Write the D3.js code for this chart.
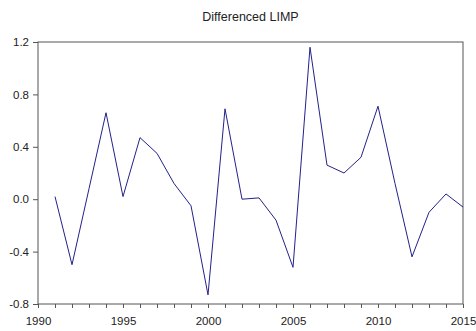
<!DOCTYPE html>
<html lang="en">
<head>
    <meta charset="UTF-8">
    <title>Differenced LIMP</title>
    <script src="https://cdnjs.cloudflare.com/ajax/libs/d3/7.8.5/d3.min.js"></script>
    <style>
        body {
            margin: 0;
            padding: 0;
            background-color: white;
        }
        .axis text {
            font-family: Arial, "Liberation Sans", sans-serif;
            font-size: 11.5px;
            fill: #222;
        }
        .axis path, .axis line {
            stroke: #555;
        }
    </style>
</head>
<body>
    <div id="chart"></div>

    <script>
        // Data
        const years = [1991, 1992, 1993, 1994, 1995, 1996, 1997, 1998, 1999, 2000,
                       2001, 2002, 2003, 2004, 2005, 2006, 2007, 2008, 2009, 2010,
                       2011, 2012, 2013, 2014, 2015];
        const values = [0.02, -0.50, 0.08, 0.66, 0.02, 0.47, 0.35, 0.12, -0.05, -0.73,
                        0.69, 0.00, 0.01, -0.16, -0.52, 1.16, 0.26, 0.20, 0.32, 0.71,
                        0.12, -0.44, -0.10, 0.04, -0.06];
        const yTicks = [-0.8, -0.4, 0.0, 0.4, 0.8, 1.2];
        const xTicks = [1990, 1995, 2000, 2005, 2010, 2015];
        const title = "Differenced LIMP";

        const width = 476;
        const height = 331;
        const margin = {top: 42, right: 13, bottom: 27, left: 38};

        const svg = d3.select("#chart")
            .append("svg")
            .attr("width", width)
            .attr("height", height);

        const x = d3.scaleLinear()
            .domain([1990, 2015])
            .range([margin.left, width - margin.right]);

        const y = d3.scaleLinear()
            .domain([-0.8, 1.2])
            .range([height - margin.bottom, margin.top]);

        // frame
        svg.append("rect")
            .attr("x", margin.left)
            .attr("y", margin.top)
            .attr("width", x.range()[1] - x.range()[0])
            .attr("height", y.range()[0] - y.range()[1])
            .attr("fill", "none")
            .attr("stroke", "#555");

        // x axis: minor ticks every year, labels every 5
        svg.append("g")
            .attr("class", "axis")
            .attr("transform", `translate(0,${height - margin.bottom})`)
            .call(d3.axisBottom(x).tickValues(d3.range(1990, 2016)).tickSize(4).tickFormat(""))
            .call(g => g.select(".domain").remove());

        svg.append("g")
            .attr("class", "axis")
            .attr("transform", `translate(0,${height - margin.bottom})`)
            .call(d3.axisBottom(x).tickValues(xTicks).tickSize(4).tickPadding(9).tickFormat(d3.format("d")))
            .call(g => g.select(".domain").remove());

        // plain hyphen for negatives, like the original
        const fmtY = d => d3.format(".1f")(d).replace("\u2212", "-");

        svg.append("g")
            .attr("class", "axis")
            .attr("transform", `translate(${margin.left},0)`)
            .call(d3.axisLeft(y).tickValues(yTicks).tickSize(5).tickPadding(4).tickFormat(fmtY))
            .call(g => g.select(".domain").remove());

        // series
        const line = d3.line()
            .x((d, i) => x(years[i]))
            .y(d => y(d));

        svg.append("path")
            .datum(values)
            .attr("fill", "none")
            .attr("stroke", "#22228a")
            .attr("stroke-width", 1)
            .attr("d", line);

        svg.append("text")
            .attr("x", (x.range()[0] + x.range()[1]) / 2)
            .attr("y", 21)
            .attr("text-anchor", "middle")
            .attr("font-family", "Arial, 'Liberation Sans', sans-serif")
            .attr("font-size", 12.5)
            .attr("fill", "#222")
            .text(title);
    </script>
</body>
</html>
